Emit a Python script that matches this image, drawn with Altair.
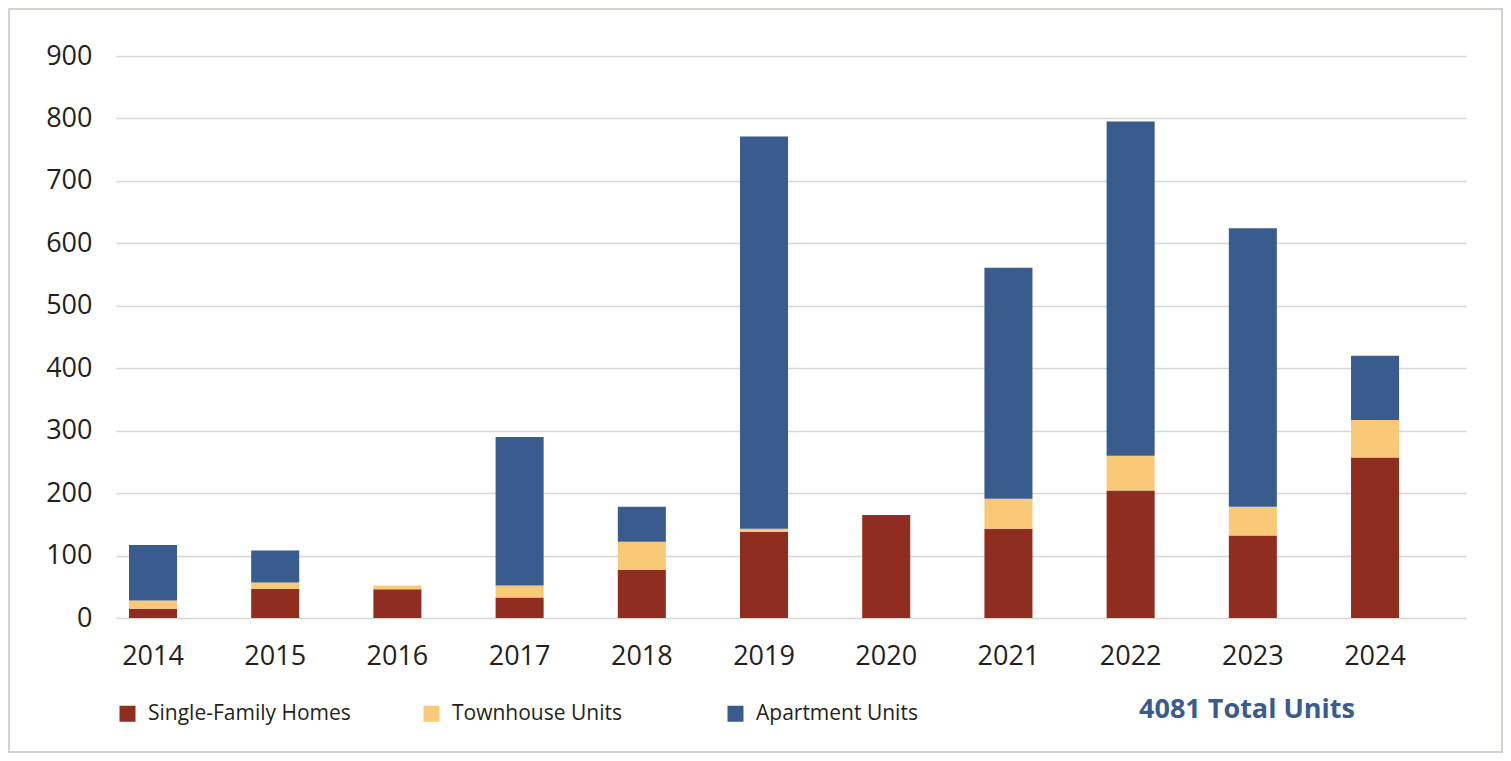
import altair as alt
import pandas as pd

years = ["2014", "2015", "2016", "2017", "2018", "2019", "2020", "2021", "2022", "2023", "2024"]
single_family = [15, 47, 46, 33, 77, 138, 165, 143, 204, 132, 257]
townhouse = [13, 10, 6, 19, 45, 5, 0, 48, 56, 46, 60]
apartment = [89, 51, 0, 238, 56, 628, 0, 370, 535, 446, 103]
series_names = ["Single-Family Homes", "Townhouse Units", "Apartment Units"]
series_colors = ["#8F2E20", "#FAC977", "#3A5B8E"]

rows = []
for i, y in enumerate(years):
    for k, (name, vals) in enumerate(zip(series_names, [single_family, townhouse, apartment])):
        rows.append({"year": y, "type": name, "units": vals[i], "order": k})
df = pd.DataFrame(rows)
total = int(df["units"].sum())

W, H = 1350, 562
FONT = "Open Sans"
TEXT = "#231F20"

bars = alt.Chart(df).mark_bar().encode(
    x=alt.X("year:N", sort=years,
            scale=alt.Scale(paddingInner=0.607, paddingOuter=0.327, align=0.1625),
            axis=alt.Axis(title=None, labelAngle=0, ticks=False, domain=False, grid=False,
                          labelFontSize=27, labelFont=FONT, labelColor=TEXT, labelPadding=25)),
    y=alt.Y("units:Q", stack="zero",
            scale=alt.Scale(domain=[0, 900], nice=False),
            axis=alt.Axis(title=None, values=list(range(0, 1000, 100)), ticks=False, domain=False,
                          grid=True, gridColor="#D7D6D0", gridWidth=1.5,
                          labelFontSize=27, labelFont=FONT, labelColor=TEXT, labelPadding=24)),
    color=alt.Color("type:N", sort=series_names,
                    scale=alt.Scale(domain=series_names, range=series_colors),
                    legend=alt.Legend(title=None, orient="none", legendX=1, legendY=647,
                                      direction="horizontal", columns=3, gridAlign="all",
                                      columnPadding=70, symbolType="square", symbolSize=256,
                                      symbolStrokeWidth=0, labelFontSize=21, labelFont=FONT,
                                      labelColor=TEXT, labelOffset=10, labelLimit=0, padding=0)),
    order=alt.Order("order:Q", sort="ascending"),
)

total_text = alt.Chart(pd.DataFrame({"label": [f"{total} Total Units"]})).mark_text(
    font=FONT, fontSize=27, fontWeight="bold", color="#3A5B8E", align="center", baseline="middle"
).encode(text="label:N", x=alt.value(1131), y=alt.value(654))

border = alt.Chart(pd.DataFrame({"a": [0]})).mark_rect(
    fill=None, stroke="#D3D2CC", strokeWidth=2
).encode(x=alt.value(-107), x2=alt.value(W + 36), y=alt.value(-47), y2=alt.value(H + 134))

chart = alt.layer(border, bars, total_text).properties(
    width=W, height=H,
    background="white",
    autosize=alt.AutoSizeParams(type="none"),
    padding={"left": 108, "top": 48, "right": 37, "bottom": 135},
).configure_view(stroke=None)

chart.save("out.html", embed_options={"renderer": "svg", "actions": False})
